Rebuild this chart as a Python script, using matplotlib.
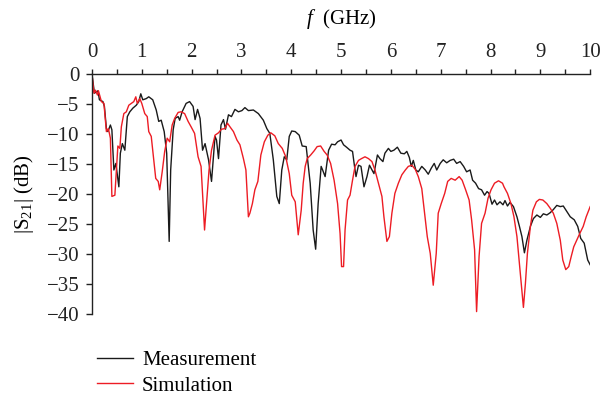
import matplotlib
matplotlib.use("Agg")
import matplotlib.pyplot as plt
from matplotlib.ticker import MultipleLocator

plt.rcParams['font.family'] = ['Liberation Serif', 'DejaVu Serif']
plt.rcParams['mathtext.fontset'] = 'custom'
plt.rcParams['mathtext.rm'] = 'Liberation Serif'
plt.rcParams['mathtext.it'] = 'Liberation Serif:italic'

# measurement (black)
meas_f = [0, 0.05, 0.12, 0.15, 0.22, 0.25, 0.29, 0.32, 0.37, 0.40, 0.44, 0.48, 0.54, 0.57, 0.61,
          0.66, 0.71, 0.76, 0.82, 0.89, 0.94, 0.98, 1.02, 1.09, 1.14, 1.22, 1.29, 1.34, 1.39, 1.45,
          1.50, 1.55, 1.58, 1.63, 1.67, 1.73, 1.76, 1.81, 1.89, 1.96, 2.03, 2.07, 2.12, 2.17, 2.22,
          2.27, 2.34, 2.40, 2.47, 2.50, 2.54, 2.59, 2.64, 2.68, 2.74, 2.80, 2.87, 2.94, 3.01, 3.07,
          3.14, 3.24, 3.34, 3.44, 3.51, 3.57, 3.64, 3.71, 3.76, 3.81, 3.86, 3.91, 3.96, 4.01, 4.08,
          4.16, 4.22, 4.30, 4.38, 4.44, 4.49, 4.54, 4.60, 4.63, 4.68, 4.75, 4.81, 4.88, 4.93, 5.00,
          5.05, 5.11, 5.18, 5.23, 5.27, 5.30, 5.35, 5.40, 5.46, 5.52, 5.57, 5.62, 5.66, 5.73, 5.78,
          5.84, 5.88, 5.95, 6.00, 6.06, 6.13, 6.20, 6.27, 6.32, 6.37, 6.41, 6.45, 6.50, 6.55, 6.62,
          6.69, 6.75, 6.81, 6.87, 6.92, 6.99, 7.05, 7.12, 7.19, 7.26, 7.32, 7.39, 7.46, 7.52, 7.59,
          7.64, 7.70, 7.76, 7.82, 7.88, 7.93, 7.97, 8.03, 8.08, 8.13, 8.19, 8.25, 8.29, 8.34, 8.39,
          8.46, 8.53, 8.58, 8.63, 8.68, 8.73, 8.80, 8.86, 8.93, 9.00, 9.06, 9.13, 9.20, 9.26, 9.33,
          9.40, 9.46, 9.53, 9.60, 9.68, 9.75, 9.81, 9.88, 9.95, 10.0]
meas_db = [0, -3.2, -2.8, -4.3, -4.6, -5.4, -9.1, -9.6, -8.5, -9.3, -16.0, -14.9, -18.8, -13.2, -11.6,
           -12.7, -7.1, -6.3, -5.7, -5.2, -4.6, -3.3, -4.3, -4.1, -3.8, -4.3, -6.0, -7.9, -7.7, -9.6,
           -13.2, -27.9, -16.0, -9.3, -7.4, -7.1, -7.7, -6.3, -4.9, -4.6, -5.4, -7.6, -5.9, -7.4, -12.7,
           -11.6, -14.3, -17.9, -10.4, -11.0, -14.1, -8.5, -7.6, -9.2, -6.8, -7.1, -5.9, -6.3, -6.1, -5.6,
           -6.1, -6.0, -6.6, -7.7, -9.1, -9.9, -14.3, -20.4, -21.6, -16.0, -13.8, -14.3, -10.4, -9.5, -9.6,
           -10.2, -12.0, -12.1, -18.2, -26.0, -29.2, -21.6, -15.4, -16.0, -17.1, -12.7, -11.7, -11.8, -11.3, -11.0,
           -11.8, -12.2, -12.7, -12.9, -15.4, -17.1, -15.2, -15.4, -18.8, -17.1, -15.2, -16.0, -16.6, -13.5, -14.1,
           -14.6, -13.2, -12.4, -12.9, -12.7, -12.2, -13.2, -13.3, -12.9, -13.9, -15.4, -14.4, -16.0, -16.3, -15.4,
           -16.0, -16.7, -15.7, -14.9, -16.0, -14.9, -14.3, -14.8, -14.4, -14.2, -14.9, -14.6, -15.4, -16.3, -16.0,
           -17.7, -18.2, -19.1, -19.3, -20.2, -19.6, -19.9, -21.7, -21.0, -21.8, -21.3, -21.8, -21.1, -22.0, -21.4,
           -22.1, -23.8, -25.4, -27.1, -29.8, -27.7, -25.4, -24.1, -23.5, -23.9, -23.3, -23.5, -23.1, -22.6, -21.9,
           -22.1, -22.0, -22.9, -23.8, -24.3, -25.4, -27.4, -28.2, -31.0, -31.8]

# simulation (red)
sim_f = [0, 0.04, 0.07, 0.11, 0.13, 0.19, 0.24, 0.29, 0.33, 0.37, 0.40, 0.46, 0.49, 0.52, 0.56,
         0.59, 0.64, 0.69, 0.74, 0.79, 0.84, 0.88, 0.91, 0.96, 1.00, 1.06, 1.11, 1.14, 1.19, 1.24,
         1.28, 1.33, 1.36, 1.41, 1.46, 1.51, 1.56, 1.61, 1.66, 1.73, 1.79, 1.86, 1.93, 1.99, 2.06,
         2.13, 2.19, 2.26, 2.30, 2.35, 2.40, 2.47, 2.54, 2.60, 2.67, 2.72, 2.77, 2.84, 2.91, 2.97,
         3.04, 3.09, 3.14, 3.17, 3.22, 3.27, 3.33, 3.39, 3.46, 3.53, 3.59, 3.67, 3.74, 3.82, 3.89,
         3.96, 4.01, 4.08, 4.14, 4.20, 4.24, 4.28, 4.32, 4.39, 4.46, 4.52, 4.59, 4.66, 4.72, 4.79,
         4.86, 4.93, 4.98, 5.01, 5.05, 5.08, 5.13, 5.18, 5.23, 5.28, 5.35, 5.41, 5.48, 5.55, 5.62,
         5.68, 5.75, 5.82, 5.86, 5.92, 5.97, 6.02, 6.08, 6.15, 6.22, 6.29, 6.35, 6.42, 6.49, 6.55,
         6.62, 6.67, 6.73, 6.79, 6.85, 6.91, 6.95, 7.01, 7.08, 7.14, 7.21, 7.29, 7.37, 7.43, 7.50,
         7.57, 7.62, 7.68, 7.72, 7.77, 7.82, 7.89, 7.95, 8.01, 8.08, 8.16, 8.24, 8.27, 8.34, 8.41,
         8.47, 8.53, 8.58, 8.63, 8.66, 8.70, 8.74, 8.80, 8.85, 8.92, 8.98, 9.05, 9.13, 9.20, 9.26,
         9.33, 9.40, 9.45, 9.51, 9.57, 9.62, 9.67, 9.73, 9.79, 9.86, 9.92, 10.0]
sim_db = [0, -3.2, -2.7, -3.5, -2.8, -4.6, -4.9, -9.6, -9.1, -10.7, -20.4, -20.2, -16.0, -12.0, -12.4,
          -8.8, -6.6, -6.3, -5.2, -4.9, -4.6, -3.8, -4.9, -4.1, -4.9, -6.6, -7.1, -9.6, -10.4, -14.3,
          -17.4, -17.9, -19.3, -16.3, -12.9, -10.7, -11.3, -8.5, -7.4, -6.4, -6.3, -6.6, -7.9, -8.8, -9.9,
          -13.8, -15.4, -26.0, -21.6, -16.0, -12.7, -10.2, -9.8, -9.2, -9.1, -8.2, -8.8, -9.6, -11.0, -11.8,
          -14.1, -16.0, -23.8, -23.2, -21.6, -19.3, -17.9, -13.5, -11.3, -10.2, -9.8, -10.3, -11.6, -12.4, -13.8,
          -16.6, -20.2, -21.3, -26.8, -22.7, -18.2, -15.4, -14.1, -13.5, -12.8, -12.1, -12.0, -12.9, -13.5, -14.9,
          -17.7, -21.6, -26.6, -32.1, -32.1, -26.0, -21.0, -20.2, -17.7, -15.4, -14.4, -14.1, -13.8, -14.1, -14.6,
          -16.0, -18.2, -20.4, -23.8, -27.9, -27.1, -23.2, -19.9, -18.2, -16.8, -16.0, -15.4, -15.2, -15.9, -17.1,
          -19.1, -22.7, -27.1, -29.9, -35.2, -29.9, -23.2, -21.6, -19.9, -17.9, -17.4, -17.7, -17.1, -17.7, -19.3,
          -21.0, -24.3, -29.3, -39.6, -30.4, -24.9, -23.2, -20.7, -19.3, -18.2, -17.8, -18.2, -18.8, -19.9, -21.6,
          -23.8, -27.1, -31.6, -36.0, -38.9, -34.9, -29.9, -25.4, -22.7, -21.3, -20.9, -21.0, -21.6, -22.4, -23.2,
          -24.9, -27.7, -31.0, -32.6, -32.1, -30.4, -28.8, -27.7, -26.6, -25.4, -23.8, -22.1]

fig = plt.figure(figsize=(6.01, 4.0), dpi=100)
ax = fig.add_axes([0.153, 0.215, 0.829, 0.6])

l1, = ax.plot(meas_f, meas_db, color='#1a1a1a', lw=1.0, label='Measurement')
l2, = ax.plot(sim_f, sim_db, color='#ed1c24', lw=1.0, label='Simulation')

ax.set_xlim(0, 10)
ax.set_ylim(-40, 0)
ax.spines['bottom'].set_visible(False)
ax.spines['right'].set_visible(False)
for s in ['top', 'left']:
    ax.spines[s].set_linewidth(1.0)
    ax.spines[s].set_color('#222222')

ax.xaxis.tick_top()
ax.xaxis.set_label_position('top')
ax.xaxis.set_major_locator(MultipleLocator(1))
ax.xaxis.set_minor_locator(MultipleLocator(0.5))
ax.yaxis.set_major_locator(MultipleLocator(5))
ax.tick_params(axis='x', which='both', direction='out', length=3.5, width=1.0,
               labelsize=15, pad=5, colors='#222222')
ax.tick_params(axis='y', direction='out', length=4, width=1.0, labelsize=15, pad=5,
               colors='#222222')

ax.set_xlabel(r'$f$  (GHz)', fontsize=15, labelpad=14)
ax.set_ylabel(r'$|\mathrm{S}_{21}|$ (dB)', fontsize=15, labelpad=8)

fig.legend(handles=[l1, l2], loc='upper left', bbox_to_anchor=(0.148, 0.145),
           frameon=False, fontsize=15, handlelength=1.7, handletextpad=0.45,
           labelspacing=0.3, borderaxespad=0)

fig.savefig('out.png', dpi=100)
